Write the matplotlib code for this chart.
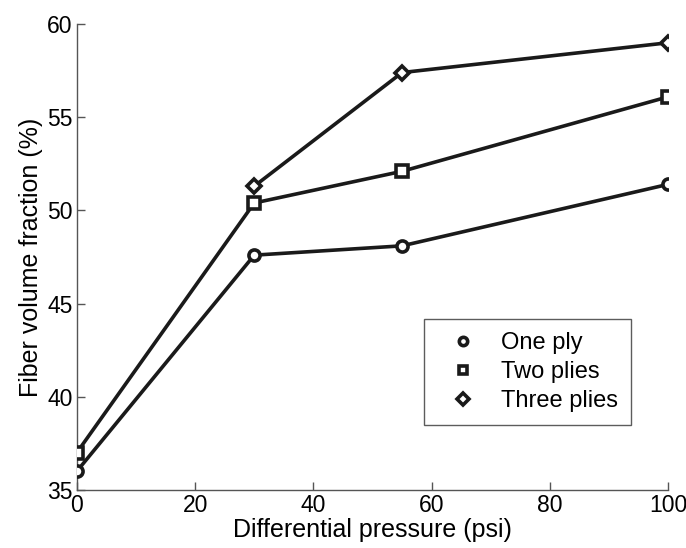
import matplotlib
matplotlib.use('Agg')
import matplotlib.pyplot as plt

# data
pressure = [0, 30, 55, 100]
one_ply = [36.0, 47.6, 48.1, 51.4]
two_plies = [37.0, 50.4, 52.1, 56.1]
# three plies has no point at 0 psi in the reference
pressure_three = [30, 55, 100]
three_plies = [51.3, 57.4, 59.0]

plt.rcParams['font.family'] = ['Liberation Sans', 'DejaVu Sans']

fig = plt.figure(figsize=(6.86, 5.48), dpi=100)
ax = fig.add_axes([0.112, 0.106, 0.862, 0.85])

style = dict(color='#1a1a1a', linewidth=2.6, markerfacecolor='white',
             markeredgewidth=2.6, markersize=8)
ax.plot(pressure_three, three_plies, marker='D', label='Three plies', zorder=2,
        **dict(style, markersize=7))
ax.plot(pressure, two_plies, marker='s', label='Two plies', zorder=3, **style)
ax.plot(pressure, one_ply, marker='o', label='One ply', zorder=4, **style)

ax.set_xlim(0, 100)
ax.set_ylim(35, 60)
ax.set_xticks([0, 20, 40, 60, 80, 100])
ax.set_yticks([35, 40, 45, 50, 55, 60])
ax.set_xlabel('Differential pressure (psi)', fontsize=18, labelpad=1)
ax.set_ylabel('Fiber volume fraction (%)', fontsize=18, labelpad=3)

ax.spines['top'].set_visible(False)
ax.spines['right'].set_visible(False)
for s in ('left', 'bottom'):
    ax.spines[s].set_color('#555555')
    ax.spines[s].set_linewidth(1)
ax.tick_params(direction='in', length=6, width=1, color='#555555',
               labelsize=16.5, pad=3)

handles, labels = ax.get_legend_handles_labels()
order = [2, 1, 0]
leg = ax.legend([handles[i] for i in order], [labels[i] for i in order],
                loc='lower right', bbox_to_anchor=(0.937, 0.139),
                borderaxespad=0,
                fontsize=17, frameon=True, fancybox=False, edgecolor='#333333',
                handlelength=2.2, borderpad=0.55, labelspacing=0.3,
                handletextpad=0.5)
leg.get_frame().set_linewidth(1)
for h in leg.get_lines():
    h.set_linestyle('none')
    h.set_markersize(6)

fig.savefig('out.png', dpi=100)
